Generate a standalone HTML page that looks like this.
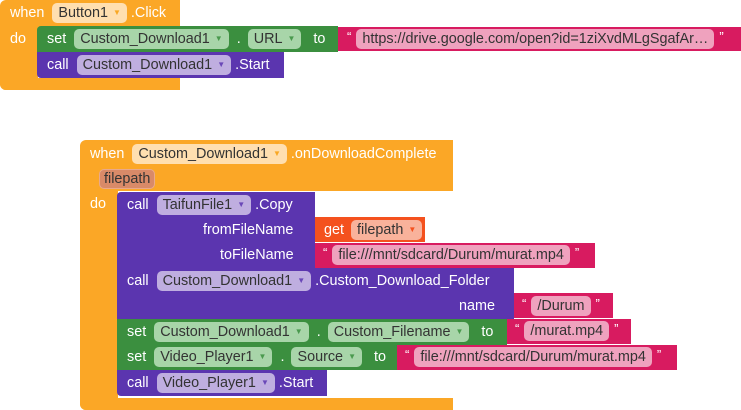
<!DOCTYPE html>
<html><head><meta charset="utf-8"><style>
body{margin:0;width:741px;height:410px;background:#fff;position:relative;overflow:hidden;font-family:"Liberation Sans",Arial,sans-serif;font-size:14.4px;color:#fff}
.b{position:absolute;box-sizing:border-box}
.o{background:#FBA726}
.g{background:#3B8F3F}
.p{background:#5B35AF}
.k{background:#D81B60}
.r{background:#F4511E}
.t{position:absolute;white-space:nowrap;line-height:20px}
.pill{display:inline-block;height:20px;line-height:20px;padding:0 6px;border-radius:5px;color:#333;vertical-align:top}
.pill .a{font-size:8px;margin-left:5px;vertical-align:top}
.po{background:#FFDFB0}.po .a{color:#F9A825}
.pg{background:#A8D5A9}.pg .a{color:#4a9a4e}
.pp{background:#BFAEE0}.pp .a{color:#6a48b8}
.pk{background:#EFA2BE}
.pr{background:#F9B29B}.pr .a{color:#F4511E}
.pf{background:#D98A68;border:1px solid #e9a98c}
.q{font-size:13px;vertical-align:top;margin:0 5px;line-height:16px}
</style></head><body>

<!-- Event 1 -->
<div class="b o" style="left:0;top:0;width:180px;height:27px;border-radius:6px 0 0 0"></div>
<div class="b o" style="left:0;top:26px;width:38px;height:64px;border-radius:0 0 0 6px"></div>
<div class="b o" style="left:0;top:78px;width:180px;height:12px;border-radius:0 0 0 6px"></div>
<div class="t" style="left:10px;top:3px">when <span class="pill po" style="margin-left:4px">Button1<span class="a">▼</span></span> .Click</div>
<div class="t" style="left:10px;top:29px">do</div>

<div class="b g" style="left:37px;top:26px;width:301px;height:26px;border-radius:4px 0 0 0"></div>
<div class="t" style="left:47px;top:29px">set <span class="pill pg" style="margin-left:4px">Custom_Download1<span class="a">▼</span></span> &nbsp;. <span class="pill pg" style="margin-left:3px">URL<span class="a">▼</span></span> &nbsp;&nbsp;to</div>
<div class="b k" style="left:338px;top:27px;width:403px;height:24px"></div>
<div class="t" style="left:342px;top:29px"><span class="q">“</span><span class="pill pk">https://drive.google.com/open?id=1ziXvdMLgSgafAr…</span><span class="q">”</span></div>

<div class="b p" style="left:37px;top:52px;width:247px;height:26px;border-radius:0 0 0 4px"></div>
<div class="t" style="left:47px;top:55px">call <span class="pill pp" style="margin-left:4px">Custom_Download1<span class="a">▼</span></span> .Start</div>

<!-- Event 2 -->
<div class="b o" style="left:80px;top:140px;width:373px;height:51px;border-radius:6px 0 0 0"></div>
<div class="b o" style="left:80px;top:190px;width:38px;height:220px;border-radius:0 0 0 6px"></div>
<div class="b o" style="left:80px;top:398px;width:373px;height:12px;border-radius:0 0 0 6px"></div>
<div class="t" style="left:90px;top:144px">when <span class="pill po" style="margin-left:4px">Custom_Download1<span class="a">▼</span></span> .onDownloadComplete</div>
<div class="t" style="left:99px;top:169px"><span class="pill pf" style="color:#333;padding:0 4px;height:18px;line-height:18px">filepath</span></div>
<div class="t" style="left:90px;top:194px">do</div>

<div class="b p" style="left:117px;top:192px;width:198px;height:76px;border-radius:4px 0 0 0"></div>
<div class="t" style="left:127px;top:195px">call <span class="pill pp" style="margin-left:4px">TaifunFile1<span class="a">▼</span></span> .Copy</div>
<div class="t" style="left:203px;top:220px">fromFileName</div>
<div class="t" style="left:220px;top:245px">toFileName</div>
<div class="b r" style="left:315px;top:217px;width:110px;height:25px"></div>
<div class="t" style="left:324px;top:220px">get <span class="pill pr" style="margin-left:3px">filepath<span class="a">▼</span></span></div>
<div class="b k" style="left:315px;top:243px;width:280px;height:25px"></div>
<div class="t" style="left:318px;top:245px"><span class="q">“</span><span class="pill pk">file:///mnt/sdcard/Durum/murat.mp4</span><span class="q">”</span></div>

<div class="b p" style="left:117px;top:268px;width:397px;height:51px"></div>
<div class="t" style="left:127px;top:271px">call <span class="pill pp" style="margin-left:4px">Custom_Download1<span class="a">▼</span></span> .Custom_Download_Folder</div>
<div class="t" style="left:459px;top:296px">name</div>
<div class="b k" style="left:514px;top:293px;width:99px;height:25px"></div>
<div class="t" style="left:517px;top:296px"><span class="q">“</span><span class="pill pk">/Durum</span><span class="q">”</span></div>

<div class="b g" style="left:117px;top:319px;width:390px;height:26px"></div>
<div class="t" style="left:127px;top:322px">set <span class="pill pg" style="margin-left:4px">Custom_Download1<span class="a">▼</span></span> &nbsp;. <span class="pill pg" style="margin-left:3px">Custom_Filename<span class="a">▼</span></span> &nbsp;&nbsp;to</div>
<div class="b k" style="left:507px;top:319px;width:124px;height:25px"></div>
<div class="t" style="left:510px;top:321px"><span class="q">“</span><span class="pill pk">/murat.mp4</span><span class="q">”</span></div>

<div class="b g" style="left:117px;top:345px;width:280px;height:25px"></div>
<div class="t" style="left:127px;top:347px">set <span class="pill pg" style="margin-left:4px">Video_Player1<span class="a">▼</span></span> &nbsp;. <span class="pill pg" style="margin-left:3px">Source<span class="a">▼</span></span> &nbsp;&nbsp;to</div>
<div class="b k" style="left:397px;top:345px;width:280px;height:25px"></div>
<div class="t" style="left:400px;top:347px"><span class="q">“</span><span class="pill pk">file:///mnt/sdcard/Durum/murat.mp4</span><span class="q">”</span></div>

<div class="b p" style="left:117px;top:370px;width:210px;height:26px;border-radius:0 0 0 4px"></div>
<div class="t" style="left:127px;top:373px">call <span class="pill pp" style="margin-left:4px">Video_Player1<span class="a">▼</span></span> .Start</div>

</body></html>
